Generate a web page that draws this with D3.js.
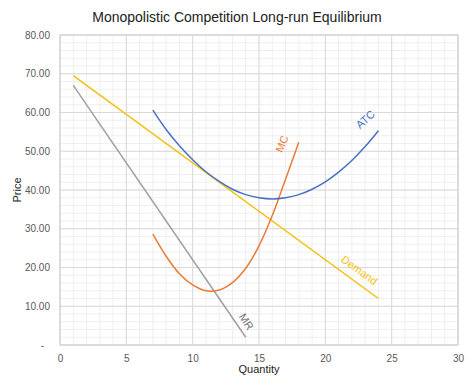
<!DOCTYPE html>
<html>
<head>
<meta charset="utf-8">
<script src="https://cdn.jsdelivr.net/npm/d3@7"></script>
<style>
  body { margin: 0; background: #fff; }
  text { font-family: Arial, "Liberation Sans", sans-serif; }
</style>
</head>
<body>
<div id="chart"></div>
<script>
// Data
var demandQ = [1, 24];
var demandP = [69.5, 12];
var mrQ = [1, 14];
var mrP = [67, 2];
var atcQ = [7, 8, 9, 10, 11, 12, 13, 14, 15, 16, 17, 18, 19, 20, 21, 22, 23, 24];
var atcP = [60.6, 55.6, 51.4, 47.8, 44.7, 42.2, 40.2, 38.8, 38.0, 37.7, 38.0, 38.8, 40.2, 42.1, 44.6, 47.6, 51.2, 55.3];
var mcQ = [7, 8, 9, 10, 11, 12, 13, 14, 15, 16, 17, 18];
var mcP = [28.6, 22.9, 18.4, 15.5, 14.0, 14.2, 16.1, 19.8, 25.6, 33.4, 42.8, 52.3];
var xTicks = [0, 5, 10, 15, 20, 25, 30];
var yTicks = [0, 10, 20, 30, 40, 50, 60, 70, 80];

var svgWidth = 474;
var svgHeight = 386;
var margin = { top: 35, right: 16, bottom: 41, left: 60 };
var width = svgWidth - margin.left - margin.right;
var height = svgHeight - margin.top - margin.bottom;

var svg = d3.select("#chart")
  .append("svg")
  .attr("width", svgWidth)
  .attr("height", svgHeight);

var chartGroup = svg.append("g")
  .attr("transform", `translate(${margin.left}, ${margin.top})`);

var x = d3.scaleLinear().domain([0, 30]).range([0, width]);
var y = d3.scaleLinear().domain([0, 80]).range([height, 0]);

// minor gridlines
chartGroup.append("g").selectAll("line")
  .data(d3.range(0, 31, 1))
  .enter().append("line")
  .attr("x1", d => x(d)).attr("x2", d => x(d))
  .attr("y1", 0).attr("y2", height)
  .attr("stroke", "#efefef");
chartGroup.append("g").selectAll("line")
  .data(d3.range(0, 81, 2))
  .enter().append("line")
  .attr("y1", d => y(d)).attr("y2", d => y(d))
  .attr("x1", 0).attr("x2", width)
  .attr("stroke", "#efefef");

// major gridlines
chartGroup.append("g").selectAll("line")
  .data(xTicks)
  .enter().append("line")
  .attr("x1", d => x(d)).attr("x2", d => x(d))
  .attr("y1", 0).attr("y2", height)
  .attr("stroke", "#d9d9d9");
chartGroup.append("g").selectAll("line")
  .data(yTicks)
  .enter().append("line")
  .attr("y1", d => y(d)).attr("y2", d => y(d))
  .attr("x1", 0).attr("x2", width)
  .attr("stroke", "#d9d9d9");

// plot border
chartGroup.append("rect")
  .attr("width", width).attr("height", height)
  .attr("fill", "none").attr("stroke", "#d0d0d0");

// axes
var bottomAxis = d3.axisBottom(x).tickValues(xTicks).tickSize(0).tickPadding(10);
var leftAxis = d3.axisLeft(y).tickValues(yTicks).tickSize(0).tickPadding(10)
  .tickFormat(d => d === 0 ? "-" : d3.format(".2f")(d));

var gx = chartGroup.append("g")
  .attr("transform", `translate(0, ${height})`)
  .call(bottomAxis);
var gy = chartGroup.append("g").call(leftAxis);
[gx, gy].forEach(function(g) {
  g.select(".domain").remove();
  g.selectAll("text").attr("fill", "#595959").attr("font-size", "10px");
});
gy.selectAll("text").filter(d => d === 0).attr("dx", "-6");

// series
var line = d3.line().x(d => x(d[0])).y(d => y(d[1]));
var smooth = d3.line().x(d => x(d[0])).y(d => y(d[1])).curve(d3.curveCatmullRom);

var series = [
  { name: "MR", q: mrQ, p: mrP, color: "#a0a0a0", gen: line },
  { name: "Demand", q: demandQ, p: demandP, color: "#f5c00c", gen: line },
  { name: "MC", q: mcQ, p: mcP, color: "#ec7a36", gen: smooth },
  { name: "ATC", q: atcQ, p: atcP, color: "#4672c4", gen: smooth }
];

series.forEach(function(s) {
  chartGroup.append("path")
    .datum(s.q.map((d, i) => [d, s.p[i]]))
    .attr("d", s.gen)
    .attr("fill", "none")
    .attr("stroke", s.color)
    .attr("stroke-width", 1.5);
});

// series labels
var labels = [
  { text: "ATC", q: 23.2, p: 57.5, angle: -42, color: "#4672c4" },
  { text: "MC", q: 17.0, p: 51.5, angle: -68, color: "#ec7a36" },
  { text: "Demand", q: 22.4, p: 18.5, angle: 36, color: "#f5c00c" },
  { text: "MR", q: 13.8, p: 5.5, angle: 57, color: "#6f6f6f" }
];
chartGroup.selectAll(".seriesLabel")
  .data(labels)
  .enter().append("text")
  .attr("class", "seriesLabel")
  .attr("transform", d => `translate(${x(d.q)}, ${y(d.p)}) rotate(${d.angle})`)
  .attr("text-anchor", "middle")
  .attr("font-size", "11px")
  .attr("fill", d => d.color)
  .text(d => d.text);

// title and axis labels
svg.append("text")
  .attr("x", 237).attr("y", 22)
  .attr("text-anchor", "middle")
  .attr("font-size", "14px")
  .attr("fill", "#222")
  .text("Monopolistic Competition Long-run Equilibrium");

svg.append("text")
  .attr("transform", `translate(21, ${margin.top + height / 2}) rotate(-90)`)
  .attr("text-anchor", "middle")
  .attr("font-size", "11px")
  .attr("fill", "#222")
  .text("Price");

svg.append("text")
  .attr("x", margin.left + width / 2).attr("y", 373)
  .attr("text-anchor", "middle")
  .attr("font-size", "11px")
  .attr("fill", "#222")
  .text("Quantity");
</script>
</body>
</html>
